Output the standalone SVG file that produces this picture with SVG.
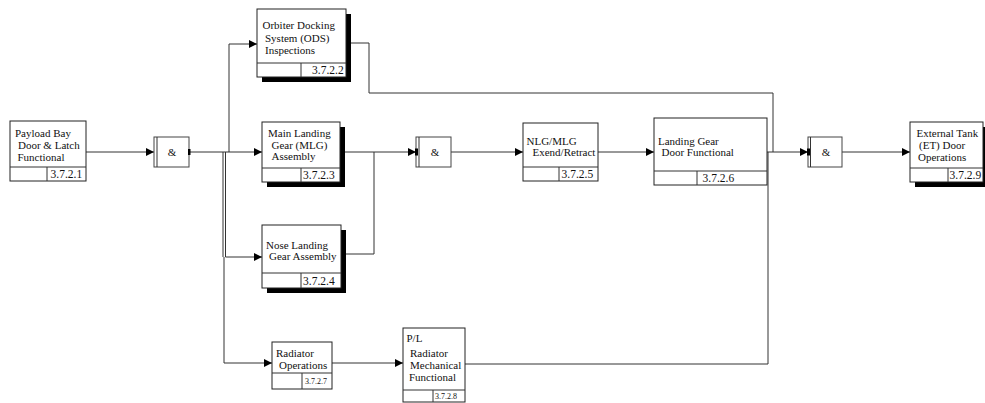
<svg xmlns="http://www.w3.org/2000/svg" width="985" height="403" viewBox="0 0 985 403">
<style>
.box{fill:#fff;stroke:#222;stroke-width:1}
.sh{fill:#000}
.ln{fill:none;stroke:#333;stroke-width:1}
.t{font-family:"Liberation Serif","Times New Roman",serif;font-size:11px;fill:#111}
.c{font-family:"Liberation Serif","Times New Roman",serif;font-size:11.5px;fill:#111}
.cs{font-family:"Liberation Serif","Times New Roman",serif;font-size:8px;fill:#111}
.g{fill:#fff;stroke:#444;stroke-width:1}
</style>
<defs>
<marker id="ar" viewBox="0 0 8 8" refX="8" refY="4" markerWidth="8" markerHeight="8" markerUnits="userSpaceOnUse" orient="auto">
<path d="M0,0 L8,4 L0,8 z" fill="#000"/>
</marker>
</defs>
<rect width="985" height="403" fill="#fff"/>
<g id="connectors">
<path class="ln" d="M86,152 H154" marker-end="url(#ar)"/>
<path class="ln" d="M189,152 H262" marker-end="url(#ar)"/>
<path class="ln" d="M229,152 V44 H257" marker-end="url(#ar)"/>
<path class="ln" d="M223,152 V257" stroke="#666"/>
<path class="ln" d="M225.5,152 V257 H262" marker-end="url(#ar)"/>
<path class="ln" d="M224,257 V363 H272" marker-end="url(#ar)"/>
<path class="ln" d="M332,363 H403" marker-end="url(#ar)"/>
<path class="ln" d="M465,364 H768 V152"/>
<path class="ln" d="M340,152 H416" marker-end="url(#ar)"/>
<path class="ln" d="M341,254 H374 V152"/>
<path class="ln" d="M346,43 H369 V93 H773 V152"/>
<path class="ln" d="M451,152 H523" marker-end="url(#ar)"/>
<path class="ln" d="M598,152 H654" marker-end="url(#ar)"/>
<path class="ln" d="M767,152 H808" marker-end="url(#ar)"/>
<path class="ln" d="M842,152 H910" marker-end="url(#ar)"/>
</g>
<g id="n3721">
<rect class="box" x="10" y="121" width="76" height="60"/>
<path class="ln" d="M10,167 H86 M47,167 V181"/>
<text class="t" x="15" y="137">Payload Bay</text>
<text class="t" x="18" y="149">Door &amp; Latch</text>
<text class="t" x="17.5" y="161">Functional</text>
<text class="c" x="50.5" y="178">3.7.2.1</text>
</g>
<g id="gate1">
<rect class="g" x="154" y="137" width="35" height="30"/>
<path class="ln" d="M157,137 V167"/>
<rect x="188" y="149" width="2.5" height="6" fill="#000"/>
<text class="t" x="172" y="156" text-anchor="middle">&amp;</text>
</g>
<g id="n3722">
<rect class="sh" x="262" y="14" width="89" height="68"/>
<rect class="box" x="257" y="9" width="89" height="68"/>
<path class="ln" d="M257,63 H346 M301,63 V77"/>
<text class="t" x="262.5" y="29">Orbiter Docking</text>
<text class="t" x="265" y="42">System (ODS)</text>
<text class="t" x="265" y="54">Inspections</text>
<text class="c" x="312" y="74">3.7.2.2</text>
</g>
<g id="n3723">
<rect class="sh" x="267" y="127" width="78" height="60"/>
<rect class="box" x="262" y="122" width="78" height="60"/>
<path class="ln" d="M262,168 H340 M301,168 V182"/>
<text class="t" x="268" y="137">Main Landing</text>
<text class="t" x="271.5" y="149">Gear (MLG)</text>
<text class="t" x="271.5" y="160">Assembly</text>
<text class="c" x="303" y="179">3.7.2.3</text>
</g>
<g id="n3724">
<rect class="sh" x="267" y="230" width="79" height="63"/>
<rect class="box" x="262" y="225" width="79" height="63"/>
<path class="ln" d="M262,273 H341 M301,273 V288"/>
<text class="t" x="266" y="249">Nose Landing</text>
<text class="t" x="269" y="260">Gear Assembly</text>
<text class="c" x="303" y="284.5">3.7.2.4</text>
</g>
<g id="gate2">
<rect class="g" x="416" y="137" width="35" height="30"/>
<path class="ln" d="M419,137 V167"/>
<rect x="415" y="148.5" width="3" height="7" fill="#000"/>
<text class="t" x="435" y="156" text-anchor="middle">&amp;</text>
</g>
<g id="n3725">
<rect class="box" x="523" y="123" width="75" height="58"/>
<path class="ln" d="M523,167 H598 M559,167 V181"/>
<text class="t" x="526.5" y="145">NLG/MLG</text>
<text class="t" x="532.5" y="156">Exend/Retract</text>
<text class="c" x="561.5" y="177.5">3.7.2.5</text>
</g>
<g id="n3726">
<rect class="box" x="654" y="118" width="113" height="67"/>
<path class="ln" d="M654,171 H767 M697,171 V185"/>
<text class="t" x="658" y="145">Landing Gear</text>
<text class="t" x="661.5" y="156">Door Functional</text>
<text class="c" x="702.5" y="181.5">3.7.2.6</text>
</g>
<g id="gate3">
<rect class="g" x="808" y="137" width="34" height="30"/>
<path class="ln" d="M810.5,137 V167"/>
<rect x="807" y="148.5" width="3" height="7" fill="#000"/>
<text class="t" x="826" y="156" text-anchor="middle">&amp;</text>
</g>
<g id="n3729">
<rect class="sh" x="915" y="127" width="73" height="60"/>
<rect class="box" x="910" y="122" width="73" height="60"/>
<path class="ln" d="M910,168 H983 M948,168 V182"/>
<text class="t" x="916.5" y="137">External Tank</text>
<text class="t" x="919" y="149">(ET) Door</text>
<text class="t" x="918" y="160.5">Operations</text>
<text class="c" x="949.5" y="179">3.7.2.9</text>
</g>
<g id="n3727">
<rect class="box" x="272" y="342" width="60" height="47"/>
<path class="ln" d="M272,373 H332 M302,373 V389"/>
<text class="t" x="276" y="357">Radiator</text>
<text class="t" x="279" y="369">Operations</text>
<text class="cs" x="305" y="384">3.7.2.7</text>
</g>
<g id="n3728">
<rect class="box" x="403" y="328" width="62" height="74"/>
<path class="ln" d="M403,390 H465 M433,390 V402"/>
<text class="t" x="406.5" y="342">P/L</text>
<text class="t" x="410" y="357">Radiator</text>
<text class="t" x="410" y="369">Mechanical</text>
<text class="t" x="409" y="380.5">Functional</text>
<text class="cs" x="435" y="399">3.7.2.8</text>
</g>
</svg>
